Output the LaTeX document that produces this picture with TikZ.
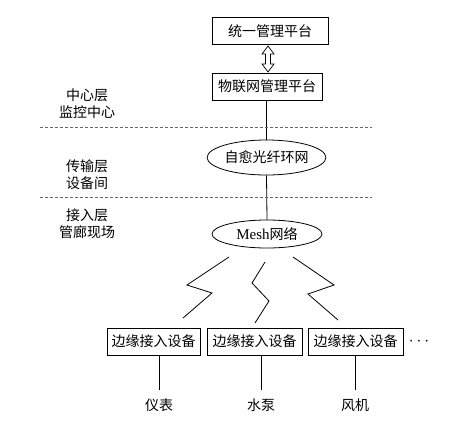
\documentclass[tikz,border=0pt]{standalone}
\usepackage{fontspec}
\setmainfont{Noto Sans CJK SC}
\newfontfamily\latinserif{Liberation Serif}
\usetikzlibrary{shapes.geometric}
\begin{document}
\begin{tikzpicture}[x=1pt,y=-1pt,
  every node/.style={font=\fontsize{14}{16}\selectfont, inner sep=0pt},
  box/.style={draw, line width=0.8pt, minimum height=27pt, anchor=center},
  oval/.style={draw, ellipse, line width=0.8pt},
  conn/.style={line width=0.8pt},
  sep/.style={line width=0.7pt, gray!80!black, dash pattern=on 3pt off 2pt}]
\useasboundingbox (0,0) rectangle (452,421);
\fill[white] (0,0) rectangle (452,421);
% top boxes
\node[box, minimum width=116pt] (top) at (270,31) {统一管理平台};
\node[box, minimum width=110pt] (iot) at (267,86.5) {物联网管理平台};
% hollow double arrow
\draw[line width=0.7pt] (268,46) -- (274,54) -- (270.5,54) -- (270.5,64) -- (274,64) -- (268,72) -- (262,64) -- (265.5,64) -- (265.5,54) -- (262,54) -- cycle;
% ellipses
\node[oval, minimum width=111pt, minimum height=35pt] (ring) at (266.5,157.5) {自愈光纤环网};
\node[oval, minimum width=110pt, minimum height=28pt] (mesh) at (267,234) {{\latinserif\fontsize{15}{16}\selectfont Mesh}网络};
\draw[conn] (iot.south -| ring.north) -- (ring.north);
\draw[conn] (ring.south) -- (mesh.north);
% dashed separators
\coordinate (d1a) at (40,127); \coordinate (d1b) at (372,127);
\coordinate (d2a) at (40,197); \coordinate (d2b) at (372,197);
\draw[sep] (d1a) -- (d1b);
\draw[sep] (d2a) -- (d2b);
% layer labels
\node[align=center] (l1) at (87,103.5) {中心层\\[1pt]监控中心};
\node[align=center] (l2) at (87,174.5) {传输层\\[1pt]设备间};
\node[align=center] (l3) at (87,224) {接入层\\[1pt]管廊现场};
% edge devices
\node[box, minimum width=93pt] (e1) at (153.5,341.5) {边缘接入设备};
\node[box, minimum width=95pt] (e2) at (254.5,341.5) {边缘接入设备};
\node[box, minimum width=95pt] (e3) at (355.5,341.5) {边缘接入设备};
\node[font=\fontsize{18}{18}\selectfont] (dots) at (419,341.5) {$\cdots$};
% wireless zigzags
\coordinate (z1a) at (229,257); \coordinate (z1b) at (183,318);
\draw[conn] (z1a) -- (187,285) -- (212,293) -- (z1b);
\coordinate (z2a) at (265,262); \coordinate (z2b) at (255,323);
\draw[conn] (z2a) -- (252,283) -- (269,301) -- (z2b);
\coordinate (z3a) at (293,257); \coordinate (z3b) at (338,320);
\draw[conn] (z3a) -- (334,285) -- (308,294) -- (z3b);
% field devices
\node (f1) at (159,405) {仪表};
\node (f2) at (261,405) {水泵};
\node (f3) at (355,405) {风机};
\draw[conn] (e1.south -| f1) -- ([yshift=8pt]f1.north);
\draw[conn] (e2.south -| f2) -- ([yshift=8pt]f2.north);
\draw[conn] (e3.south -| f3) -- ([yshift=8pt]f3.north);
\end{tikzpicture}
\end{document}
